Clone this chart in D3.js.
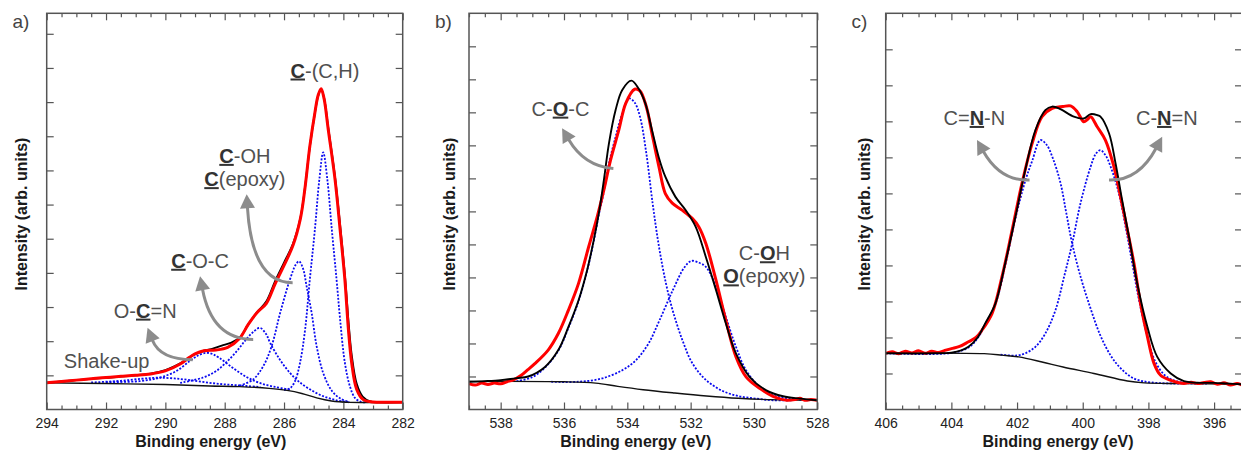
<!DOCTYPE html>
<html>
<head>
<meta charset="utf-8">
<script src="https://cdn.jsdelivr.net/npm/d3@7"></script>
<style>
  body { margin: 0; background: #fff; }
  text { font-family: "Liberation Sans", Arial, sans-serif; }
</style>
</head>
<body>
<svg id="chart" width="1241" height="453"></svg>
<script>
// ---------- C 1s (panel a) : [binding energy, intensity] ----------
const c1sXTicks = [294, 292, 290, 288, 286, 284, 282];
const c1sYTicks = [1, 2, 3, 4, 5, 6, 7, 8, 9, 10, 11];

const c1sMeasured = [[294,0.78],[293.5,0.82],[293,0.86],[292.5,0.9],[292,0.94],[291.5,0.97],[291,1.0],[290.5,1.04],[290,1.13],[289.5,1.33],[289.2,1.52],[289,1.63],[288.7,1.72],[288.3,1.74],[287.9,1.82],[287.5,2.08],[287.2,2.5],[286.9,2.85],[286.6,3.1],[286.3,3.68],[286.0,4.22],[285.7,4.8],[285.45,5.58],[285.3,6.44],[285.13,7.71],[284.96,8.69],[284.85,9.2],[284.75,9.39],[284.65,9.1],[284.51,8.2],[284.28,6.73],[284.11,5.27],[283.95,3.81],[283.83,2.34],[283.72,1.37],[283.55,0.59],[283.33,0.29],[283.0,0.22],[282.5,0.21],[282,0.21]];
const c1sFit = [[294,0.78],[293,0.86],[292,0.93],[291,1.0],[290.5,1.05],[290,1.15],[289.5,1.35],[289,1.62],[288.7,1.72],[288.4,1.78],[288.1,1.87],[287.8,1.95],[287.5,2.1],[287.2,2.5],[286.9,2.86],[286.6,3.16],[286.3,3.76],[286.0,4.3],[285.7,4.85],[285.45,5.6],[285.3,6.45],[285.13,7.7],[284.96,8.68],[284.85,9.18],[284.75,9.38],[284.65,9.12],[284.51,8.25],[284.28,6.8],[284.11,5.4],[283.95,3.95],[283.83,2.6],[283.72,1.6],[283.55,0.75],[283.35,0.38],[283.1,0.24],[282.8,0.21],[282,0.21]];
const c1sBackground = [[294,0.78],[292,0.76],[290,0.73],[288.5,0.69],[287.5,0.67],[286.5,0.62],[285.9,0.56],[285.4,0.47],[284.9,0.34],[284.4,0.25],[283.8,0.21],[282,0.21]];
const c1sShakeUp = [[292.5,0.79],[291.5,0.84],[290.8,0.9],[290.3,0.93],[289.7,0.91],[289.0,0.84],[288.3,0.76],[287.6,0.71],[286.8,0.66]];
const c1sOCN = [[292,0.8],[290.87,0.83],[290.2,0.93],[289.64,1.12],[289.19,1.41],[288.9,1.58],[288.63,1.66],[288.4,1.62],[288.18,1.51],[287.73,1.22],[287.28,0.96],[286.83,0.78],[286.3,0.66],[285.8,0.58]];
const c1sCOC = [[289.5,0.78],[288.75,0.93],[288.3,1.12],[287.96,1.37],[287.6,1.7],[287.28,2.05],[287.0,2.3],[286.81,2.39],[286.6,2.2],[286.47,1.95],[286.14,1.46],[285.8,1.07],[285.52,0.83],[285.13,0.59],[284.68,0.39],[284.23,0.27],[283.8,0.21]];
const c1sCOH = [[287.5,0.7],[287.04,0.88],[286.7,1.27],[286.42,1.85],[286.13,2.83],[285.8,3.81],[285.6,4.25],[285.49,4.34],[285.35,4.1],[285.24,3.61],[285.07,2.83],[284.9,1.85],[284.68,1.07],[284.39,0.55],[284.1,0.32],[283.8,0.22]];
const c1sCC = [[286.0,0.57],[285.8,0.62],[285.63,0.83],[285.46,1.37],[285.29,2.34],[285.13,3.81],[284.96,5.27],[284.81,6.73],[284.68,7.53],[284.54,6.73],[284.39,5.27],[284.23,3.81],[284.11,2.64],[283.95,1.37],[283.78,0.68],[283.61,0.34],[283.4,0.22],[283.2,0.21]];

// ---------- O 1s (panel b) ----------
const o1sXTicks = [538, 536, 534, 532, 530, 528];
const o1sYTicks = [1, 2, 3, 4, 5, 6, 7, 8, 9, 10, 11];

const o1sMeasured = [[539,0.78],[538.8,0.74],[538.6,0.8],[538.4,0.76],[538.2,0.8],[538.0,0.78],[537.8,0.84],[537.6,0.9],[537.35,1.04],[537.15,1.2],[536.92,1.39],[536.5,1.8],[536.18,2.3],[535.86,3.01],[535.54,3.82],[535.22,4.93],[534.95,5.84],[534.74,6.65],[534.53,7.55],[534.27,8.46],[534.05,9.27],[533.77,9.7],[533.6,9.65],[533.4,9.17],[533.2,8.26],[533.0,7.35],[532.8,6.54],[532.58,6.25],[532.27,6.04],[531.95,5.79],[531.74,5.53],[531.52,5.03],[531.2,3.92],[530.89,2.71],[530.57,1.6],[530.25,0.99],[529.82,0.64],[529.4,0.4],[528.97,0.28],[528.7,0.3],[528.55,0.34],[528.4,0.28],[528.2,0.3],[528,0.28]];
const o1sFit = [[539,0.84],[538.5,0.86],[538.0,0.89],[537.5,0.95],[537.13,1.0],[536.6,1.29],[536.18,1.8],[535.86,2.5],[535.54,3.31],[535.27,4.22],[535.06,5.13],[534.9,5.94],[534.74,6.95],[534.58,8.06],[534.37,9.07],[534.16,9.68],[533.87,9.96],[533.65,9.73],[533.43,9.27],[533.22,8.46],[533.01,7.65],[532.8,7.05],[532.48,6.44],[532.16,6.04],[531.84,5.53],[531.52,4.62],[531.2,3.62],[530.89,2.61],[530.57,1.7],[530.14,0.99],[529.61,0.58],[529.08,0.4],[528.55,0.33],[528,0.28]];
const o1sBackground = [[539,0.85],[536,0.84],[535,0.8],[534.3,0.7],[533.5,0.6],[532.5,0.5],[531.5,0.41],[530.5,0.34],[529.5,0.3],[528,0.28]];
const o1sCOC = [[537.5,0.86],[537,0.98],[536.6,1.27],[536.18,1.78],[535.86,2.47],[535.54,3.28],[535.27,4.2],[535.06,5.1],[534.9,5.9],[534.74,6.6],[534.58,7.45],[534.37,8.26],[534.16,8.97],[533.95,9.42],[533.77,9.3],[533.6,8.87],[533.4,7.76],[533.2,6.24],[533.0,4.93],[532.78,3.82],[532.57,3.01],[532.26,2.1],[531.94,1.39],[531.51,0.89],[530.99,0.56],[530.46,0.4],[529.93,0.33],[529.4,0.28],[528.8,0.28]];
const o1sCOH = [[536.4,0.84],[535.55,0.84],[534.8,0.94],[534.16,1.19],[533.73,1.49],[533.33,2.0],[532.98,2.71],[532.56,3.62],[532.2,4.3],[531.98,4.5],[531.75,4.45],[531.52,4.32],[531.2,3.72],[530.89,2.81],[530.57,1.9],[530.25,1.19],[529.82,0.68],[529.4,0.43],[528.87,0.33],[528.3,0.28]];

// ---------- N 1s (panel c) ----------
const n1sXTicks = [406, 404, 402, 400, 398, 396];
const n1sYTicks = [1, 2, 3, 4, 5, 6, 7, 8, 9, 10];

const n1sMeasured = [[406,1.56],[405.8,1.6],[405.6,1.55],[405.4,1.62],[405.2,1.57],[405.0,1.63],[404.8,1.56],[404.6,1.62],[404.4,1.58],[404.2,1.64],[404.0,1.69],[403.75,1.75],[403.48,1.88],[403.25,2.0],[403.07,2.2],[402.76,2.67],[402.46,3.68],[402.15,4.98],[401.85,6.28],[401.54,7.39],[401.24,8.13],[400.93,8.36],[400.6,8.41],[400.37,8.43],[400.17,8.27],[399.97,7.99],[399.86,8.05],[399.76,8.13],[399.56,7.85],[399.31,7.48],[399.05,6.74],[398.85,5.91],[398.64,4.98],[398.44,4.06],[398.24,2.94],[398.03,2.02],[397.83,1.28],[397.63,0.95],[397.32,0.81],[397.1,0.75],[396.92,0.72],[396.7,0.76],[396.5,0.72],[396.3,0.75],[396.1,0.77],[395.9,0.7],[395.7,0.74],[395.5,0.68],[395.3,0.72],[395.15,0.68]];
const n1sFit = [[406,1.56],[404.5,1.56],[404,1.58],[403.7,1.64],[403.48,1.74],[403.2,2.0],[402.97,2.39],[402.66,2.94],[402.36,4.06],[402.05,5.35],[401.75,6.65],[401.44,7.76],[401.14,8.31],[400.93,8.41],[400.68,8.34],[400.27,8.13],[399.97,8.08],[399.76,8.2],[399.55,8.17],[399.46,8.13],[399.2,7.67],[399.0,6.83],[398.8,5.81],[398.59,4.79],[398.34,3.5],[398.03,2.29],[397.73,1.46],[397.32,1.0],[396.92,0.79],[396.4,0.74],[396.0,0.74],[395.6,0.72],[395.15,0.7]];
const n1sBackground = [[406,1.56],[403,1.55],[402.46,1.51],[401.95,1.46],[401.24,1.32],[400.6,1.18],[399.66,1.0],[398.64,0.79],[398.13,0.74],[397,0.72],[395.15,0.7]];
const n1sCNN = [[406,1.56],[404,1.57],[403.48,1.72],[403.2,1.98],[402.97,2.37],[402.66,2.92],[402.36,4.0],[402.05,5.3],[401.75,6.35],[401.54,6.9],[401.29,7.48],[401.1,7.35],[400.9,6.95],[400.68,6.3],[400.5,5.45],[400.32,4.6],[400.07,3.7],[399.76,2.8],[399.46,2.05],[399.15,1.5],[398.85,1.15],[398.44,0.86],[397.9,0.75],[397,0.72]];
const n1sCNdN = [[402.5,1.52],[402,1.5],[401.75,1.56],[401.44,1.74],[401.14,2.11],[400.83,2.76],[400.55,3.75],[400.32,4.61],[400.07,5.72],[399.76,6.74],[399.6,7.1],[399.46,7.2],[399.3,7.05],[399.15,6.74],[398.9,6.0],[398.7,5.1],[398.5,4.1],[398.3,3.1],[398.05,2.1],[397.8,1.35],[397.5,0.95],[397.2,0.8],[396.8,0.73],[396.2,0.72]];

// ---------- annotations: text parts [string, emphasised], anchor [eV, intensity] ----------
const c1sLabels = [
  { parts: [["C", true], ["-(C,H)", false]], at: [284.62, 9.72] },
  { parts: [["C", true], ["-OH", false]], at: [287.32, 7.22] },
  { parts: [["C", true], ["(epoxy)", false]], at: [287.32, 6.54] },
  { parts: [["C", true], ["-O-C", false]], at: [288.83, 4.15] },
  { parts: [["O-", false], ["C", true], ["=N", false]], at: [290.68, 2.69] },
  { parts: [["Shake-up", false]], at: [291.98, 1.22] }
];
const o1sLabels = [
  { parts: [["C-", false], ["O", true], ["-C", false]], at: [536.11, 8.9] },
  { parts: [["C-", false], ["O", true], ["H", false]], at: [529.67, 4.52] },
  { parts: [["O", true], ["(epoxy)", false]], at: [529.67, 3.82] }
];
const n1sLabels = [
  { parts: [["C=", false], ["N", true], ["-N", false]], at: [403.3, 7.9] },
  { parts: [["C-", false], ["N", true], ["=N", false]], at: [397.44, 7.9] }
];
// arrows: start, control, tip
const c1sArrows = [
  [[289.08, 1.46], [290.18, 1.46], [290.6, 2.39]],
  [[287.04, 2.05], [288.43, 2.05], [288.83, 3.9]],
  [[285.71, 3.71], [287.08, 3.71], [287.26, 6.3]]
];
const o1sArrows = [
  [[534.44, 7.3], [535.36, 7.37], [536.06, 8.52]]
];
const n1sArrows = [
  [[401.62, 6.37], [402.51, 6.34], [403.22, 7.48]],
  [[399.2, 6.37], [398.3, 6.34], [397.58, 7.57]]
];

const plotTop = 13.3, plotBottom = 409.5;
const panels = [
  { tag: "a)", left: 46.7, right: 402.7, xDomain: [294, 282], yMax: 11.6, xTicks: c1sXTicks, yTicks: c1sYTicks,
    measured: c1sMeasured, fit: c1sFit, background: c1sBackground,
    components: [c1sShakeUp, c1sOCN, c1sCOC, c1sCOH, c1sCC],
    labels: c1sLabels, arrows: c1sArrows, fitOnTop: false, tagX: 12.5, yTitleX: 21.7, xTitleX: 210.8 },
  { tag: "b)", left: 469, right: 817.3, xDomain: [539, 528], yMax: 12.0, xTicks: o1sXTicks, yTicks: o1sYTicks,
    measured: o1sMeasured, fit: o1sFit, background: o1sBackground,
    components: [o1sCOC, o1sCOH],
    labels: o1sLabels, arrows: o1sArrows, fitOnTop: true, tagX: 435, yTitleX: 449, xTitleX: 635.8 },
  { tag: "c)", left: 885.7, right: 1242, xDomain: [406, 395.15], yMax: 11.0, xTicks: n1sXTicks, yTicks: n1sYTicks,
    measured: n1sMeasured, fit: n1sFit, background: n1sBackground,
    components: [n1sCNN, n1sCNdN],
    labels: n1sLabels, arrows: n1sArrows, fitOnTop: true, tagX: 851.5, yTitleX: 864, xTitleX: 1058 }
];

const svg = d3.select("#chart");
const arrowColor = "#8c8c8c";

function styleAxis(sel) {
  sel.select(".domain").remove();
  sel.selectAll(".tick line").attr("stroke", "#555").attr("stroke-width", 1.2);
  sel.selectAll(".tick text").attr("fill", "#222").attr("font-size", 14)
    .attr("font-family", "Liberation Sans, Arial, sans-serif");
}

panels.forEach((p, i) => {
  const g = svg.append("g");
  const x = d3.scaleLinear().domain(p.xDomain).range([p.left, p.right]);
  const y = d3.scaleLinear().domain([0, p.yMax]).range([plotBottom, plotTop]);

  const clipId = "clip" + i;
  svg.append("clipPath").attr("id", clipId)
    .append("rect").attr("x", p.left).attr("y", plotTop)
    .attr("width", p.right - p.left).attr("height", plotBottom - plotTop);

  const line = d3.line().x(d => x(d[0])).y(d => y(d[1])).curve(d3.curveCatmullRom.alpha(0.5));
  const plot = g.append("g").attr("clip-path", `url(#${clipId})`);

  p.components.forEach(c => {
    plot.append("path").attr("d", line(c)).attr("fill", "none")
      .attr("stroke", "#0a0af0").attr("stroke-width", 1.8).attr("stroke-dasharray", "2 1.6");
  });
  plot.append("path").attr("d", line(p.background)).attr("fill", "none")
    .attr("stroke", "#111").attr("stroke-width", 1.4);

  const drawFit = () => plot.append("path").attr("d", line(p.fit)).attr("fill", "none")
    .attr("stroke", "#000").attr("stroke-width", 1.9).attr("stroke-linejoin", "round");
  const drawMeasured = () => plot.append("path").attr("d", line(p.measured)).attr("fill", "none")
    .attr("stroke", "#f00").attr("stroke-width", 3).attr("stroke-linejoin", "round");
  if (p.fitOnTop) { drawMeasured(); drawFit(); } else { drawFit(); drawMeasured(); }

  // ticks
  const lo = Math.min(...p.xDomain), hi = Math.max(...p.xDomain);
  const minors = d3.range(Math.ceil(lo * 2) / 2, hi + 0.001, 0.5).filter(v => !p.xTicks.includes(v));

  g.append("g").attr("transform", `translate(0,${plotBottom})`)
    .call(d3.axisBottom(x).tickValues(p.xTicks).tickSize(-7).tickPadding(9).tickFormat(d3.format("d")))
    .call(styleAxis);
  g.append("g").attr("transform", `translate(0,${plotBottom})`)
    .call(d3.axisBottom(x).tickValues(minors).tickSize(-4).tickFormat(""))
    .call(styleAxis);
  g.append("g").attr("transform", `translate(0,${plotTop})`)
    .call(d3.axisTop(x).tickValues(p.xTicks).tickSize(-7).tickFormat(""))
    .call(styleAxis);
  g.append("g").attr("transform", `translate(0,${plotTop})`)
    .call(d3.axisTop(x).tickValues(minors).tickSize(-4).tickFormat(""))
    .call(styleAxis);
  g.append("g").attr("transform", `translate(${p.left},0)`)
    .call(d3.axisLeft(y).tickValues(p.yTicks).tickSize(-7).tickFormat(""))
    .call(styleAxis);
  g.append("g").attr("transform", `translate(${p.right},0)`)
    .call(d3.axisRight(y).tickValues(p.yTicks).tickSize(-7).tickFormat(""))
    .call(styleAxis);

  g.append("rect").attr("x", p.left).attr("y", plotTop)
    .attr("width", p.right - p.left).attr("height", plotBottom - plotTop)
    .attr("fill", "none").attr("stroke", "#555").attr("stroke-width", 1.5);

  // titles
  g.append("text").attr("x", p.xTitleX).attr("y", 447).attr("text-anchor", "middle")
    .attr("font-size", 16).attr("font-weight", "bold").attr("fill", "#1a1a1a")
    .text("Binding energy (eV)");
  g.append("text").attr("transform", `translate(${p.yTitleX + 5.5},214) rotate(-90)`)
    .attr("text-anchor", "middle").attr("font-size", 16).attr("font-weight", "bold").attr("fill", "#1a1a1a")
    .text("Intensity (arb. units)");
  g.append("text").attr("x", p.tagX).attr("y", 28).attr("font-size", 19).attr("fill", "#444").text(p.tag);

  // arrows
  p.arrows.forEach(a => {
    const [s, c, t] = a.map(q => [x(q[0]), y(q[1])]);
    const dx = t[0] - c[0], dy = t[1] - c[1], L = Math.hypot(dx, dy);
    const ux = dx / L, uy = dy / L, head = 14, hw = 7.5;
    const b = [t[0] - ux * head, t[1] - uy * head];
    g.append("path").attr("d", `M${s[0]},${s[1]}Q${c[0]},${c[1]} ${b[0] + ux},${b[1] + uy}`)
      .attr("fill", "none").attr("stroke", arrowColor).attr("stroke-width", 3);
    g.append("path")
      .attr("d", `M${t[0]},${t[1]}L${b[0] - uy * hw},${b[1] + ux * hw}L${b[0] + uy * hw},${b[1] - ux * hw}Z`)
      .attr("fill", arrowColor);
  });

  // labels
  p.labels.forEach(l => {
    const t = g.append("text").attr("x", x(l.at[0])).attr("y", y(l.at[1]))
      .attr("text-anchor", "middle").attr("font-size", 20).attr("fill", "#505050");
    l.parts.forEach(([str, em]) => {
      const s = t.append("tspan").text(str);
      if (em) s.attr("font-weight", "bold").attr("fill", "#333").style("text-decoration", "underline");
    });
  });
});
</script>
</body>
</html>
